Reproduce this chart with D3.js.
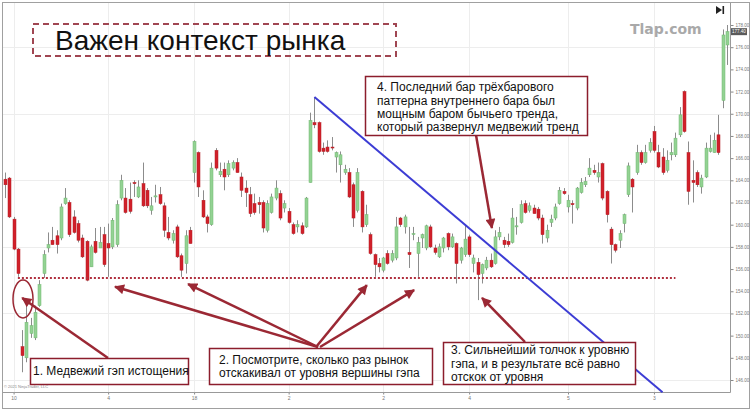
<!DOCTYPE html>
<html>
<head>
<meta charset="utf-8">
<script src="https://d3js.org/d3.v7.min.js"></script>
<style>
    body { margin: 0; background: #fff; }
    svg text { font-family: "Liberation Sans", Arial, sans-serif; }
</style>
</head>
<body>
<script>

    // daily bars (price units)
    var opens = [164.1,164.2,160.5,157.8,149.0,148.0,150.2,149.8,152.7,155.6,
        157.9,158.6,159.0,158.8,161.9,162.0,160.7,160.1,158.8,158.5,
        156.2,158.5,157.9,159.1,158.3,158.0,158.2,162.4,162.4,162.3,
        163.8,162.5,163.7,163.1,161.3,162.5,162.7,161.7,159.3,158.6,
        159.8,157.2,156.5,159.5,164.7,166.5,162.2,160.7,160.0,166.7,
        164.5,165.0,164.5,165.1,165.6,164.3,163.3,162.7,161.9,162.0,
        162.0,159.5,161.1,162.4,162.8,161.5,161.2,160.0,159.8,159.9,
        159.8,163.8,169.2,169.2,166.9,167.0,167.0,166.1,165.4,164.7,
        164.7,163.6,161.3,163.0,160.0,159.1,157.3,156.5,155.9,157.4,
        156.8,157.0,160.6,159.8,157.5,159.1,157.4,158.8,157.9,159.8,
        157.9,157.1,157.9,159.2,158.0,158.3,156.8,157.3,158.9,156.5,
        156.6,155.6,156.1,156.8,156.5,158.9,158.6,158.5,158.4,159.8,
        160.2,161.9,161.3,161.5,161.4,160.6,158.8,160.2,160.6,161.9,
        163.0,161.6,161.9,161.5,162.9,163.6,164.5,164.9,164.3,165.5,
        163.0,159.6,158.2,158.6,160.1,162.7,164.1,164.7,166.5,165.6,
        166.7,168.4,166.5,166.1,164.9,166.3,166.3,168.1,172.0,166.5,
        164.0,164.7,163.4,164.3,166.6,166.5,168.1,171.2,176.2];
    var highs = [164.7,164.3,160.7,157.9,150.5,152.7,151.6,152.7,155.0,157.7,
        159.3,159.8,159.5,161.9,163.3,162.2,161.3,160.4,159.1,158.6,
        158.2,159.7,159.8,159.8,160.1,160.6,162.2,164.5,163.3,163.8,
        164.0,164.0,165.6,163.3,162.5,163.6,163.4,162.0,160.7,159.5,
        160.0,157.4,159.5,159.8,167.6,166.6,163.1,160.9,165.6,166.9,
        165.6,165.6,165.8,165.8,166.0,164.7,164.0,163.4,162.8,162.5,
        162.2,162.2,162.8,164.0,163.1,162.2,161.5,160.2,160.4,160.2,
        162.5,170.1,171.5,169.3,167.4,167.6,167.9,166.6,166.6,165.4,
        165.1,163.8,165.1,163.1,161.8,159.3,157.4,157.0,157.1,157.7,
        157.7,160.7,160.7,160.9,159.8,159.8,158.9,159.2,160.0,160.0,
        158.2,158.3,158.9,159.3,159.2,158.4,158.0,160.0,159.1,157.3,
        157.0,156.5,157.1,157.4,159.5,159.8,158.9,159.2,161.5,160.7,
        162.2,162.2,162.0,161.8,161.6,160.9,160.0,160.9,161.9,163.4,
        163.3,162.7,162.2,163.4,164.2,164.3,166.0,165.4,165.6,165.6,
        163.1,159.8,158.3,159.5,161.0,165.6,164.2,167.2,166.7,167.2,
        167.8,168.9,167.2,166.9,166.7,167.4,168.3,170.6,172.1,167.5,
        165.8,164.9,164.5,167.4,168.1,168.3,169.9,177.6,178.0];
    var lows = [162.4,160.6,157.7,155.3,146.7,147.6,149.8,149.6,152.6,155.2,
        157.5,158.2,157.4,158.6,161.8,158.9,159.2,158.4,157.0,154.9,
        156.2,157.4,157.9,156.2,155.3,157.8,158.0,162.2,161.0,161.0,
        162.5,162.4,161.6,161.5,160.9,162.0,161.8,158.9,158.6,158.3,
        157.0,155.3,155.6,158.3,163.8,162.5,160.6,159.3,159.9,164.9,
        164.3,163.1,164.3,164.9,164.7,162.5,161.6,160.7,160.9,161.0,
        159.3,159.3,161.0,162.2,160.4,161.1,160.1,159.1,159.3,159.1,
        159.7,163.8,168.7,166.5,166.3,166.5,166.7,164.7,163.8,164.5,
        162.4,159.8,161.1,159.3,159.8,157.3,155.3,155.7,155.7,156.4,
        156.6,156.8,159.8,159.2,156.1,158.6,155.3,157.9,157.7,157.9,
        157.3,157.0,157.5,157.7,157.9,154.7,156.5,157.1,157.1,155.7,
        153.2,154.7,155.9,156.1,156.4,158.6,157.9,158.0,158.3,159.1,
        160.1,161.0,161.1,161.0,160.4,158.3,158.4,159.8,160.4,161.8,
        162.7,161.1,160.1,161.3,162.8,163.4,164.3,164.5,163.8,162.2,
        160.2,156.5,157.5,157.9,159.3,162.5,161.1,164.5,165.4,165.5,
        166.5,166.5,165.1,164.5,164.7,165.8,166.1,167.9,168.3,161.8,
        162.0,163.4,162.8,164.2,166.5,166.5,166.3,170.5,174.4];
    var closes = [163.6,160.7,157.8,155.6,148.2,151.2,150.9,152.1,154.6,157.3,
        158.2,158.2,158.2,161.6,162.4,159.1,159.3,158.6,157.1,155.0,
        158.0,157.5,158.4,156.4,157.9,160.4,161.8,164.0,161.1,161.2,
        163.7,163.4,161.7,161.7,161.7,162.6,161.9,159.5,158.8,159.2,
        157.1,155.9,159.0,158.3,167.5,163.4,160.7,160.1,165.1,165.1,
        164.8,164.3,165.5,165.6,164.7,163.1,162.9,161.0,161.1,161.8,
        159.7,161.9,162.5,163.3,160.6,161.9,160.2,159.2,160.0,159.2,
        162.4,169.4,169.0,166.6,166.6,166.6,166.95,166.5,166.3,165.0,
        162.5,160.6,164.7,159.8,160.9,157.4,156.4,156.2,157.0,156.5,
        157.4,159.8,160.0,160.7,157.3,159.2,158.4,159.1,159.9,158.0,
        157.5,158.0,158.8,158.0,158.9,156.5,157.9,158.7,157.3,157.0,
        155.5,156.4,156.8,156.2,158.9,159.3,158.2,158.2,160.6,159.9,
        161.8,161.1,161.7,161.0,160.6,159.1,159.5,160.5,161.6,163.1,
        162.8,162.2,161.8,163.3,163.8,163.9,165.1,164.7,164.7,162.4,
        160.9,158.2,157.7,159.2,160.9,165.3,163.4,166.5,165.6,166.5,
        167.4,166.7,165.2,164.7,165.8,166.5,167.8,169.9,168.4,163.0,
        163.8,163.6,164.2,166.9,166.9,167.6,166.5,177.1,177.4];

    var priceTicks = d3.range(146, 179, 2);
    var gridPrices = [146, 152, 158, 164, 170, 176];
    var dateTicks = [2, 24, 44, 66, 88, 108, 131, 151];
    var dateLabels = ['10', '4', '18', '2', '2', '4', '5', '3'];

    var gapLevel = 155.2;
    var levelFrom = 3, levelTo = 156;
    var trend = [[72, 171.5], [153, 144.9]];
    var lastPrice = 177.4;

    var width = 754, height = 413;
    var plotRight = 730, plotBottom = 392;
    var red = '#9b2834';

    var x = d3.scaleLinear().domain([0, opens.length - 1]).range([5, 727]);
    var y = d3.scaleLinear().domain([146, 178]).range([380, 25]);

    var svg = d3.select('body').append('svg')
        .attr('width', width)
        .attr('height', height);

    var defs = svg.append('defs');
    defs.append('marker')
        .attr('id', 'head')
        .attr('viewBox', '0 0 10 10')
        .attr('refX', 9).attr('refY', 5)
        .attr('markerWidth', 11).attr('markerHeight', 10)
        .attr('markerUnits', 'userSpaceOnUse')
        .attr('orient', 'auto')
        .append('path')
        .attr('d', 'M0,0 L10,5 L0,10 Z')
        .attr('fill', red);

    // outer frame
    svg.append('rect')
        .attr('x', 2.5).attr('y', 2.5)
        .attr('width', 747).attr('height', 406)
        .attr('fill', '#fff')
        .attr('stroke', '#a0a0a0');

    // grid
    svg.append('g').selectAll('line').data(gridPrices).enter().append('line')
        .attr('x1', 3).attr('x2', plotRight)
        .attr('y1', function(d) { return Math.round(y(d)) + 0.5; })
        .attr('y2', function(d) { return Math.round(y(d)) + 0.5; })
        .attr('stroke', '#ededed');
    svg.append('g').selectAll('line').data(dateTicks).enter().append('line')
        .attr('x1', function(d) { return Math.round(x(d)) + 0.5; })
        .attr('x2', function(d) { return Math.round(x(d)) + 0.5; })
        .attr('y1', 3).attr('y2', plotBottom)
        .attr('stroke', '#ededed');

    // axes
    var yAxis = d3.axisRight(y)
        .tickValues(priceTicks)
        .tickFormat(d3.format('.2f'))
        .tickSize(3)
        .tickPadding(2);
    svg.append('g')
        .attr('transform', 'translate(' + (plotRight + 0.5) + ',0)')
        .call(yAxis)
        .call(function(g) { g.select('.domain').remove(); })
        .call(function(g) {
            g.selectAll('line').attr('stroke', '#888');
            g.selectAll('text').attr('fill', '#777').style('font-size', '4.5px');
        });

    var xAxis = d3.axisBottom(x)
        .tickValues(dateTicks)
        .tickFormat(function(d, i) { return dateLabels[i]; })
        .tickSize(2)
        .tickPadding(2);
    svg.append('g')
        .attr('transform', 'translate(0,' + (plotBottom + 0.5) + ')')
        .call(xAxis)
        .call(function(g) { g.select('.domain').remove(); })
        .call(function(g) {
            g.selectAll('line').attr('stroke', '#888');
            g.selectAll('text').attr('fill', '#777').style('font-size', '5px');
        });

    svg.append('line')
        .attr('x1', 3).attr('x2', plotRight + 0.5)
        .attr('y1', plotBottom + 0.5).attr('y2', plotBottom + 0.5)
        .attr('stroke', '#999');
    svg.append('line')
        .attr('x1', plotRight + 0.5).attr('x2', plotRight + 0.5)
        .attr('y1', 3).attr('y2', plotBottom + 0.5)
        .attr('stroke', '#999');

    // last price tag
    svg.append('rect')
        .attr('x', plotRight + 1).attr('y', y(lastPrice) - 3.5)
        .attr('width', 16).attr('height', 7)
        .attr('fill', '#5a5a5a');
    svg.append('text')
        .attr('x', plotRight + 9).attr('y', y(lastPrice) + 1.6)
        .attr('text-anchor', 'middle')
        .attr('fill', '#fff')
        .style('font-size', '4.5px')
        .text(d3.format('.2f')(lastPrice));

    svg.append('text')
        .attr('x', 4).attr('y', 388)
        .attr('fill', '#888')
        .style('font-size', '4px')
        .text('© 2021 NinjaTrader, LLC');

    // go-to-end button
    svg.append('path')
        .attr('d', 'M716,6 L722,10 L716,14 Z M722.5,6 h1.6 v8 h-1.6 Z')
        .attr('fill', '#222');

    // candles
    var bars = svg.append('g');
    bars.selectAll('line').data(opens).enter().append('line')
        .attr('x1', function(d, i) { return Math.round(x(i)) + 0.5; })
        .attr('x2', function(d, i) { return Math.round(x(i)) + 0.5; })
        .attr('y1', function(d, i) { return y(highs[i]); })
        .attr('y2', function(d, i) { return y(lows[i]); })
        .attr('stroke', '#8c8c8c');
    bars.selectAll('rect').data(opens).enter().append('rect')
        .attr('x', function(d, i) { return Math.round(x(i)) - 1; })
        .attr('width', 3)
        .attr('y', function(d, i) { return y(Math.max(d, closes[i])); })
        .attr('height', function(d, i) { return Math.max(1, Math.abs(y(d) - y(closes[i]))); })
        .attr('fill', function(d, i) { return closes[i] >= d ? '#93d293' : '#d1202a'; })
        .attr('stroke', function(d, i) { return closes[i] >= d ? '#72b872' : '#b51c24'; })
        .attr('stroke-width', 0.5);

    // gap level and trend line
    svg.append('line')
        .attr('x1', x(levelFrom)).attr('x2', x(levelTo))
        .attr('y1', y(gapLevel)).attr('y2', y(gapLevel))
        .attr('stroke', '#b0303e')
        .attr('stroke-width', 2)
        .attr('stroke-dasharray', '2,2');

    svg.append('line')
        .attr('x1', x(trend[0][0])).attr('y1', y(trend[0][1]))
        .attr('x2', x(trend[1][0])).attr('y2', y(trend[1][1]))
        .attr('stroke', '#3c3cd4')
        .attr('stroke-width', 2);

    // title
    svg.append('rect')
        .attr('x', 33).attr('y', 24)
        .attr('width', 363).attr('height', 32)
        .attr('fill', 'none')
        .attr('stroke', '#a04652')
        .attr('stroke-width', 2)
        .attr('stroke-dasharray', '6,4');
    svg.append('text')
        .attr('x', 55).attr('y', 49.5)
        .attr('fill', '#111')
        .style('font-size', '28px')
        .text('Важен контекст рынка');

    svg.append('text')
        .attr('x', 630).attr('y', 34)
        .attr('fill', '#a9a9a9')
        .style('font-family', '"DejaVu Sans", sans-serif')
        .style('font-weight', 'bold')
        .style('font-size', '14px')
        .text('Tlap.com');

    // annotations
    svg.append('ellipse')
        .attr('cx', 23).attr('cy', 299)
        .attr('rx', 10).attr('ry', 19)
        .attr('fill', 'none')
        .attr('stroke', red)
        .attr('stroke-width', 1.5);

    var arrows = [
        [108, 358, 4, 153.4],
        [318, 347, 25.6, 154.4],
        [318, 347, 42.6, 154.65],
        [316, 347, 84.2, 154.55],
        [320, 347, 95.2, 154.1],
        [525, 342, 111, 153.4],
        [476, 135, 113.3, 159.7]
    ];
    svg.append('g').selectAll('line').data(arrows).enter().append('line')
        .attr('x1', function(d) { return d[0]; })
        .attr('y1', function(d) { return d[1]; })
        .attr('x2', function(d) { return x(d[2]); })
        .attr('y2', function(d) { return y(d[3]); })
        .attr('stroke', red)
        .attr('stroke-width', 2.5)
        .attr('marker-end', 'url(#head)');

    var notes = [
        {x: 30, y: 358, w: 158, h: 26, tx: 33, ty: [375],
            lines: ['1. Медвежий гэп истощения']},
        {x: 209, y: 348, w: 223, h: 36, tx: 219, ty: [363.5, 377],
            lines: ['2. Посмотрите, сколько раз рынок', 'отскакивал от уровня вершины гэпа']},
        {x: 443, y: 342, w: 192, h: 42, tx: 451, ty: [354, 367.5, 381],
            lines: ['3. Сильнейший толчок к уровню', 'гэпа, и в результате всё равно', 'отскок от уровня']},
        {x: 365, y: 76, w: 222, h: 59, tx: 377, ty: [91, 104.5, 117.5, 130.5],
            lines: ['4. Последний бар трёхбарового', 'паттерна внутреннего бара был', 'мощным баром бычьего тренда,', 'который развернул медвежий тренд']}
    ];
    notes.forEach(function(n) {
        svg.append('rect')
            .attr('x', n.x + 0.5).attr('y', n.y + 0.5)
            .attr('width', n.w).attr('height', n.h)
            .attr('fill', '#fff')
            .attr('stroke', '#8c1d2c')
            .attr('stroke-width', 1.5);
        n.lines.forEach(function(t, i) {
            svg.append('text')
                .attr('x', n.tx).attr('y', n.ty[i])
                .attr('fill', '#111')
                .style('font-size', '12px')
                .text(t);
        });
    });

</script>
</body>
</html>
